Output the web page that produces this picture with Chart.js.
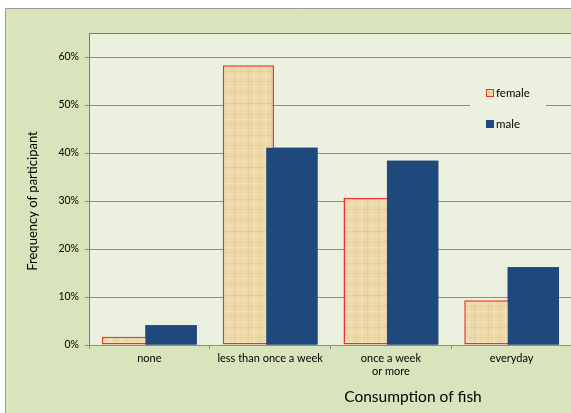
<!DOCTYPE html>
<html><head><meta charset="utf-8">
<script src="https://cdn.jsdelivr.net/npm/chart.js@4.4.0/dist/chart.umd.min.js"></script>
<style>html,body{margin:0;padding:0;overflow:hidden;background:#fff}#wrap{position:absolute;left:0;top:0;width:600px;height:430px}</style>
</head><body><div id="wrap"><canvas id="c" width="600" height="430"></canvas></div>
<script>
const categories = ['none', 'less than once a week', ['once a week', 'or more'], 'everyday'];
const femaleValues = [0.017, 0.583, 0.306, 0.093];
const maleValues = [0.041, 0.411, 0.384, 0.162];
const yTickValues = [0, 0.1, 0.2, 0.3, 0.4, 0.5, 0.6];
const seriesNames = ['female', 'male'];
const xTitle = 'Consumption of fish';
const yTitle = 'Frequency of participant';

const FONT = 'Lato, "Open Sans", sans-serif';
const OUTER_BG = '#D8E4BC';
const PLOT_BG = '#EBF0DF';
const MALE = '#1F497D';
const RED = '#F03030';

function makePattern() {
  const c = document.createElement('canvas');
  c.width = 48; c.height = 64;
  const g = c.getContext('2d');
  g.fillStyle = '#EDD8A8'; g.fillRect(0, 0, 48, 64);
  const hs = [2, 7, 11, 17, 22, 28, 33, 39, 44, 50, 55, 60];
  const vs = [3, 8, 14, 19, 25, 31, 36, 42, 46];
  hs.forEach((y, i) => { g.fillStyle = i % 2 ? 'rgba(190,160,100,0.18)' : 'rgba(255,240,210,0.35)'; g.fillRect(0, y, 48, 1); });
  vs.forEach((x, i) => { g.fillStyle = i % 2 ? 'rgba(200,170,110,0.15)' : 'rgba(255,245,220,0.3)'; g.fillRect(x, 0, 1, 64); });
  return document.getElementById('c').getContext('2d').createPattern(c, 'repeat');
}
const femaleFill = makePattern();

const bgPlugin = {
  id: 'bg',
  beforeDraw(chart) {
    const ctx = chart.ctx, a = chart.chartArea;
    ctx.save();
    ctx.fillStyle = '#ffffff'; ctx.fillRect(0, 0, chart.width, chart.height);
    ctx.fillStyle = OUTER_BG; ctx.fillRect(5, 8, chart.width, chart.height);
    ctx.strokeStyle = '#9a9a9a'; ctx.lineWidth = 1;
    ctx.beginPath(); ctx.moveTo(5.5, chart.height); ctx.lineTo(5.5, 8.5); ctx.lineTo(chart.width, 8.5); ctx.stroke();
    ctx.fillStyle = PLOT_BG; ctx.fillRect(a.left, a.top, a.right - a.left, a.bottom - a.top);
    ctx.restore();
  },
  afterDatasetsDraw(chart) {
    // male series drawn over the overlapping female bars
    chart.getDatasetMeta(1).controller.draw();
    const ctx = chart.ctx, a = chart.chartArea;
    ctx.save();
    ctx.strokeStyle = '#4F81BD'; ctx.lineWidth = 1;
    ctx.beginPath(); ctx.moveTo(a.left + 0.5, a.bottom); ctx.lineTo(a.left + 0.5, a.top + 0.5); ctx.lineTo(a.right, a.top + 0.5); ctx.stroke();
    // legend
    ctx.fillStyle = PLOT_BG; ctx.fillRect(470, 80, 76, 58);
    ctx.fillStyle = femaleFill; ctx.fillRect(486, 89, 8, 8);
    ctx.strokeStyle = RED; ctx.lineWidth = 1; ctx.strokeRect(486.5, 89.5, 7, 7);
    ctx.fillStyle = MALE; ctx.fillRect(486, 120, 8, 8);
    ctx.fillStyle = '#000'; ctx.font = '11.5px ' + FONT; ctx.textBaseline = 'middle'; ctx.textAlign = 'left';
    ctx.fillText(seriesNames[0], 496, 93);
    ctx.fillText(seriesNames[1], 496, 124);
    // axis titles
    ctx.font = '15.5px ' + FONT; ctx.textAlign = 'center';
    ctx.fillText(xTitle, 413, 397);
    ctx.translate(33, 201); ctx.rotate(-Math.PI / 2);
    ctx.font = '13px ' + FONT;
    ctx.fillText(yTitle, 0, 0);
    ctx.restore();
  }
};

new Chart(document.getElementById('c'), {
  type: 'bar',
  data: {
    labels: categories,
    datasets: [
      { label: seriesNames[0], data: femaleValues, backgroundColor: femaleFill, borderColor: RED, borderWidth: 1.5, borderSkipped: false },
      { label: seriesNames[1], data: maleValues, backgroundColor: MALE, borderWidth: 0 }
    ]
  },
  options: {
    responsive: false, animation: false, devicePixelRatio: 1,
    categoryPercentage: 0.72, barPercentage: 1.18,
    layout: { padding: { left: 0, top: 33, right: 28, bottom: 55 } },
    plugins: { legend: { display: false }, tooltip: { enabled: false } },
    scales: {
      x: {
        afterFit(s) { s.height = 30; },
        grid: { offset: true, drawOnChartArea: false, tickLength: 4, color: '#8c8c8c' },
        border: { color: '#8c8c8c' },
        ticks: { color: '#000', font: { family: FONT, size: 11 }, padding: 3, maxRotation: 0, autoSkip: false }
      },
      y: {
        min: 0, max: 0.65,
        afterFit(s) { s.width = 89; },
        afterBuildTicks(s) { s.ticks = yTickValues.map(v => ({ value: v })); },
        grid: { color: '#8c8c8c', tickLength: 4 },
        border: { color: '#4F81BD' },
        ticks: { color: '#000', font: { family: FONT, size: 10.5 }, padding: 6, callback: v => Math.round(v * 100) + '%' }
      }
    }
  },
  plugins: [bgPlugin]
});
</script></body></html>
